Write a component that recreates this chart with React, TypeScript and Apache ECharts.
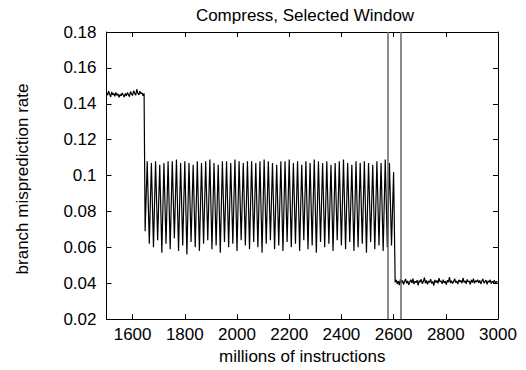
import React, { useEffect, useRef } from "react";
import * as echarts from "echarts";

const TITLE = "Compress, Selected Window";
const X_NAME = "millions of instructions";
const Y_NAME = "branch misprediction rate";

const xTickLabels = [1600, 1800, 2000, 2200, 2400, 2600, 2800, 3000];
const windowBounds = [2577, 2626];

// Phase 1: flat high mispredict rate
const phase1Start = 1500;
const phase1Step = 4;
const phase1Values = [
  0.1462, 0.1448, 0.1471, 0.1453, 0.1439, 0.1466, 0.145, 0.1458, 0.1441, 0.1463,
  0.1447, 0.1455, 0.1436, 0.1452, 0.1444, 0.146, 0.1449, 0.1438, 0.1457, 0.1445,
  0.1462, 0.1451, 0.144, 0.1468, 0.1454, 0.1446, 0.1473, 0.1458, 0.1447, 0.1481,
  0.1459, 0.145, 0.147, 0.1455, 0.1462, 0.1444, 0.1458,
];

// Phase 2: oscillating region, troughs and peaks alternate
const phase2Start = 1648;
const phase2Period = 16;
const phase2Troughs = [
  0.069, 0.062, 0.06, 0.064, 0.057, 0.062, 0.059, 0.065, 0.058, 0.061,
  0.056, 0.063, 0.06, 0.058, 0.062, 0.064, 0.059, 0.061, 0.057, 0.063,
  0.06, 0.062, 0.058, 0.064, 0.061, 0.059, 0.063, 0.06, 0.057, 0.062,
  0.064, 0.059, 0.061, 0.058, 0.063, 0.06, 0.062, 0.058, 0.064, 0.059,
  0.061, 0.057, 0.063, 0.06, 0.062, 0.058, 0.064, 0.061, 0.059, 0.063,
  0.058, 0.06, 0.062, 0.057, 0.063, 0.059, 0.061, 0.058, 0.06, 0.061,
];
const phase2Peaks = [
  0.108, 0.107, 0.108, 0.106, 0.107, 0.108, 0.108, 0.109, 0.107, 0.108,
  0.107, 0.106, 0.108, 0.107, 0.108, 0.109, 0.107, 0.106, 0.108, 0.108,
  0.107, 0.109, 0.108, 0.107, 0.108, 0.108, 0.107, 0.108, 0.109, 0.108,
  0.107, 0.106, 0.108, 0.108, 0.109, 0.107, 0.108, 0.106, 0.108, 0.107,
  0.109, 0.108, 0.107, 0.108, 0.106, 0.107, 0.108, 0.109, 0.107, 0.106,
  0.108, 0.107, 0.108, 0.107, 0.106, 0.108, 0.107, 0.109, 0.107, 0.102,
];

// Phase 3: flat low mispredict rate
const phase3Start = 2606;
const phase3Step = 4;
const phase3Values = [
  0.0405, 0.0418, 0.0396, 0.0412, 0.0389, 0.0421, 0.0402, 0.0415, 0.0393, 0.041,
  0.0424, 0.0399, 0.0413, 0.0391, 0.0408, 0.0419, 0.0401, 0.0426, 0.0395, 0.0411,
  0.0403, 0.0417, 0.0388, 0.0414, 0.0406, 0.0422, 0.0397, 0.0409, 0.0431, 0.04,
  0.0416, 0.0394, 0.0412, 0.0405, 0.0423, 0.0398, 0.041, 0.0387, 0.0418, 0.0404,
  0.0415, 0.0399, 0.0428, 0.0407, 0.0413, 0.0396, 0.042, 0.0402, 0.0411, 0.0392,
  0.0417, 0.0406, 0.0434, 0.0401, 0.0414, 0.0398, 0.0409, 0.0425, 0.0403, 0.0412,
  0.0395, 0.0419, 0.0407, 0.0416, 0.04, 0.0429, 0.0405, 0.0413, 0.0397, 0.0421,
  0.0408, 0.0411, 0.0393, 0.0418, 0.0404, 0.0426, 0.0399, 0.0414, 0.0407, 0.042,
  0.0402, 0.0415, 0.0396, 0.0412, 0.0424, 0.0401, 0.0409, 0.0417, 0.0394, 0.0413,
  0.0406, 0.0419, 0.0398, 0.0411, 0.0403, 0.0416, 0.04, 0.041, 0.0405,
];

function buildData(): number[][] {
  const out: number[][] = [];
  phase1Values.forEach((v, i) => out.push([phase1Start + i * phase1Step, v]));
  phase2Troughs.forEach((t, i) => {
    out.push([phase2Start + i * phase2Period, t]);
    out.push([phase2Start + i * phase2Period + phase2Period / 2, phase2Peaks[i]]);
  });
  phase3Values.forEach((v, i) => out.push([phase3Start + i * phase3Step, v]));
  return out;
}

const FONT = "Liberation Sans, Arial, Helvetica, sans-serif";

export default function App() {
  const ref = useRef<HTMLDivElement>(null);
  useEffect(() => {
    if (!ref.current) return;
    const chart = echarts.init(ref.current, null, { renderer: "svg" });
    const axisLine = { show: true, lineStyle: { color: "#000", width: 1 } };
    const tick = { show: true, inside: true, length: 5, lineStyle: { color: "#000", width: 1 } };
    chart.setOption({
      animation: false,
      backgroundColor: "#fff",
      grid: { left: 106.5, right: 28, top: 32, bottom: 43.5, containLabel: false },
      xAxis: [
        {
          type: "value",
          min: 1500,
          max: 3000,
          position: "bottom",
          axisLine,
          axisTick: { ...tick, customValues: xTickLabels },
          axisLabel: {
            customValues: xTickLabels,
            formatter: (v: number) => String(v),
            color: "#000",
            fontFamily: FONT,
            fontSize: 17,
            margin: 7,
          },
          splitLine: { show: false },
          name: X_NAME,
          nameLocation: "middle",
          nameGap: 21,
          nameTextStyle: { color: "#000", fontFamily: FONT, fontSize: 17 },
        },
        {
          type: "value",
          min: 1500,
          max: 3000,
          position: "top",
          axisLine,
          axisTick: { ...tick, customValues: xTickLabels },
          axisLabel: { show: false, customValues: xTickLabels },
          splitLine: { show: false },
        },
      ],
      yAxis: [
        {
          type: "value",
          min: 0.02,
          max: 0.18,
          interval: 0.02,
          position: "left",
          axisLine,
          axisTick: tick,
          axisLabel: {
            color: "#000",
            fontFamily: FONT,
            fontSize: 17,
            margin: 10,
          },
          splitLine: { show: false },
        },
        {
          type: "value",
          min: 0.02,
          max: 0.18,
          interval: 0.02,
          position: "right",
          axisLine,
          axisTick: tick,
          axisLabel: { show: false },
          splitLine: { show: false },
        },
      ],
      graphic: [
        {
          type: "text",
          x: 305,
          y: 15,
          style: {
            text: TITLE,
            fill: "#000",
            font: `17px ${FONT}`,
            textAlign: "center",
            textVerticalAlign: "middle",
          },
        },
        {
          type: "text",
          x: 22.5,
          y: 179,
          rotation: Math.PI / 2,
          style: {
            text: Y_NAME,
            fill: "#000",
            font: `17px ${FONT}`,
            textAlign: "center",
            textVerticalAlign: "middle",
          },
        },
      ],
      series: [
        {
          type: "line",
          xAxisIndex: 0,
          yAxisIndex: 0,
          data: buildData(),
          showSymbol: false,
          symbol: "none",
          lineStyle: { color: "#000", width: 1.2 },
          markLine: {
            silent: true,
            symbol: ["none", "none"],
            label: { show: false },
            lineStyle: { color: "#666", width: 1.5, type: "solid" },
            data: windowBounds.map((v) => ({ xAxis: v })),
          },
        },
      ],
    });
    return () => chart.dispose();
  }, []);
  return (
    <div
      ref={ref}
      style={{ position: "fixed", left: 0, top: 0, width: 526, height: 370 }}
    />
  );
}
